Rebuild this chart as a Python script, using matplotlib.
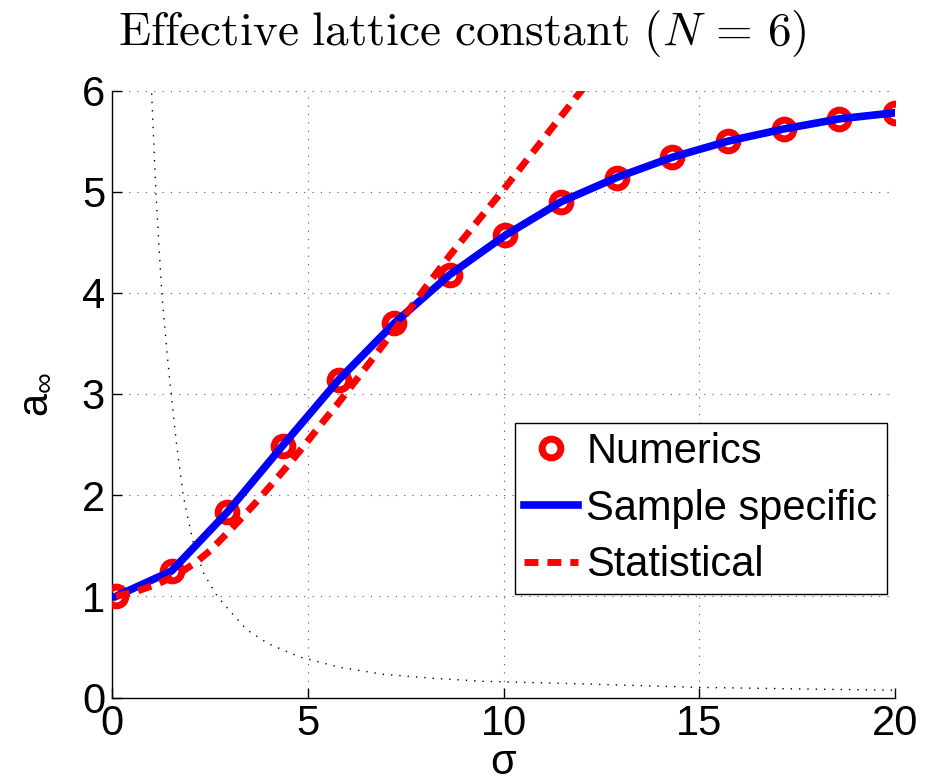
import matplotlib
matplotlib.use("Agg")
import matplotlib.pyplot as plt

plt.rcParams['font.family'] = ['Liberation Sans', 'DejaVu Sans']
plt.rcParams['mathtext.fontset'] = 'custom'
plt.rcParams['mathtext.rm'] = 'Liberation Sans'
plt.rcParams['mathtext.it'] = 'Liberation Sans:italic'

# Numerics / sample specific
sigma_num = [0.1, 1.52, 2.94, 4.36, 5.79, 7.21, 8.63, 10.05, 11.47, 12.89, 14.31, 15.74, 17.16, 18.58, 20.0]
a_num = [1.00, 1.25, 1.83, 2.49, 3.14, 3.70, 4.18, 4.57, 4.90, 5.14, 5.34, 5.50, 5.62, 5.72, 5.78]

# Statistical
sigma_stat = [0.1, 0.63, 1.18, 1.65, 2.16, 2.50, 2.93, 3.18, 3.61, 3.95, 4.33, 4.72, 5.01, 5.40,
              5.74, 6.08, 6.60, 7.21, 7.53, 8.04, 8.63, 9.32, 10.0, 10.63, 11.32, 11.95, 12.2]
a_stat = [1.00, 1.05, 1.125, 1.21, 1.34, 1.45, 1.62, 1.72, 1.90, 2.05, 2.22, 2.40, 2.54, 2.73,
          2.89, 3.06, 3.32, 3.63, 3.80, 4.07, 4.37, 4.70, 5.02, 5.33, 5.67, 5.98, 6.10]

# Dotted reference curve
sigma_dot = [0.97, 1.01, 1.12, 1.27, 1.42, 1.51, 1.65, 1.82, 1.95, 2.10, 2.35, 2.69, 3.0, 3.44,
             4.0, 4.80, 5.8, 6.92, 8.2, 9.48, 12.0, 15.0, 17.5, 20.0]
a_dot = [6.3, 6.0, 5.0, 4.0, 3.35, 3.0, 2.5, 2.0, 1.75, 1.49, 1.22, 1.0, 0.86, 0.67,
         0.53, 0.40, 0.30, 0.23, 0.19, 0.16, 0.135, 0.10, 0.085, 0.072]

xticks = [0, 5, 10, 15, 20]
yticks = [0, 1, 2, 3, 4, 5, 6]

fig = plt.figure(figsize=(9.42, 7.82), dpi=100)
ax = fig.add_axes([112/942, 1 - 697.5/782, 783/942, 607/782])

ax.plot(sigma_dot, a_dot, color='black', lw=1.0, linestyle=(0, (1, 5)), zorder=2)
ax.plot(sigma_num, a_num, 'o', ms=13.5, mfc='none', mec='red', mew=5, label='Numerics', zorder=3)
ax.plot(sigma_num, a_num, '-', color='blue', lw=5.5, label='Sample specific', zorder=4)
ax.plot(sigma_stat, a_stat, color='red', lw=5, dashes=(2.0, 1.3), label='Statistical', zorder=5)

ax.set_xlim(0, 20)
ax.set_ylim(0, 6)
ax.set_xticks(xticks)
ax.set_yticks(yticks)
ax.tick_params(direction='in', length=7, width=1, labelsize=30, pad=5)
ax.grid(True, color='0.35', lw=0.8, linestyle=(0, (1, 6.5)))
for s in ['top', 'right']:
    ax.spines[s].set_visible(False)
for s in ['left', 'bottom']:
    ax.spines[s].set_linewidth(1)

ax.set_xlabel('σ', fontsize=30, labelpad=-1)
ax.set_ylabel(r'a$_{\infty}$', fontsize=30, labelpad=20)

fig.text(462/942, 1 - 45/782, r'$\mathrm{Effective\ lattice\ constant\ }(N\,=\,6)$',
         fontsize=34, ha='center', va='baseline', math_fontfamily='cm')

leg = ax.legend(loc='upper right', bbox_to_anchor=(886.7/942, 1 - 422.7/782),
                bbox_transform=fig.transFigure, borderaxespad=0, fontsize=30,
                fancybox=False, framealpha=1, edgecolor='black', numpoints=1,
                handlelength=1.3, handletextpad=0.2, borderpad=0.22, labelspacing=0.4)
leg.get_frame().set_linewidth(1)

fig.savefig('out.png', dpi=100)
